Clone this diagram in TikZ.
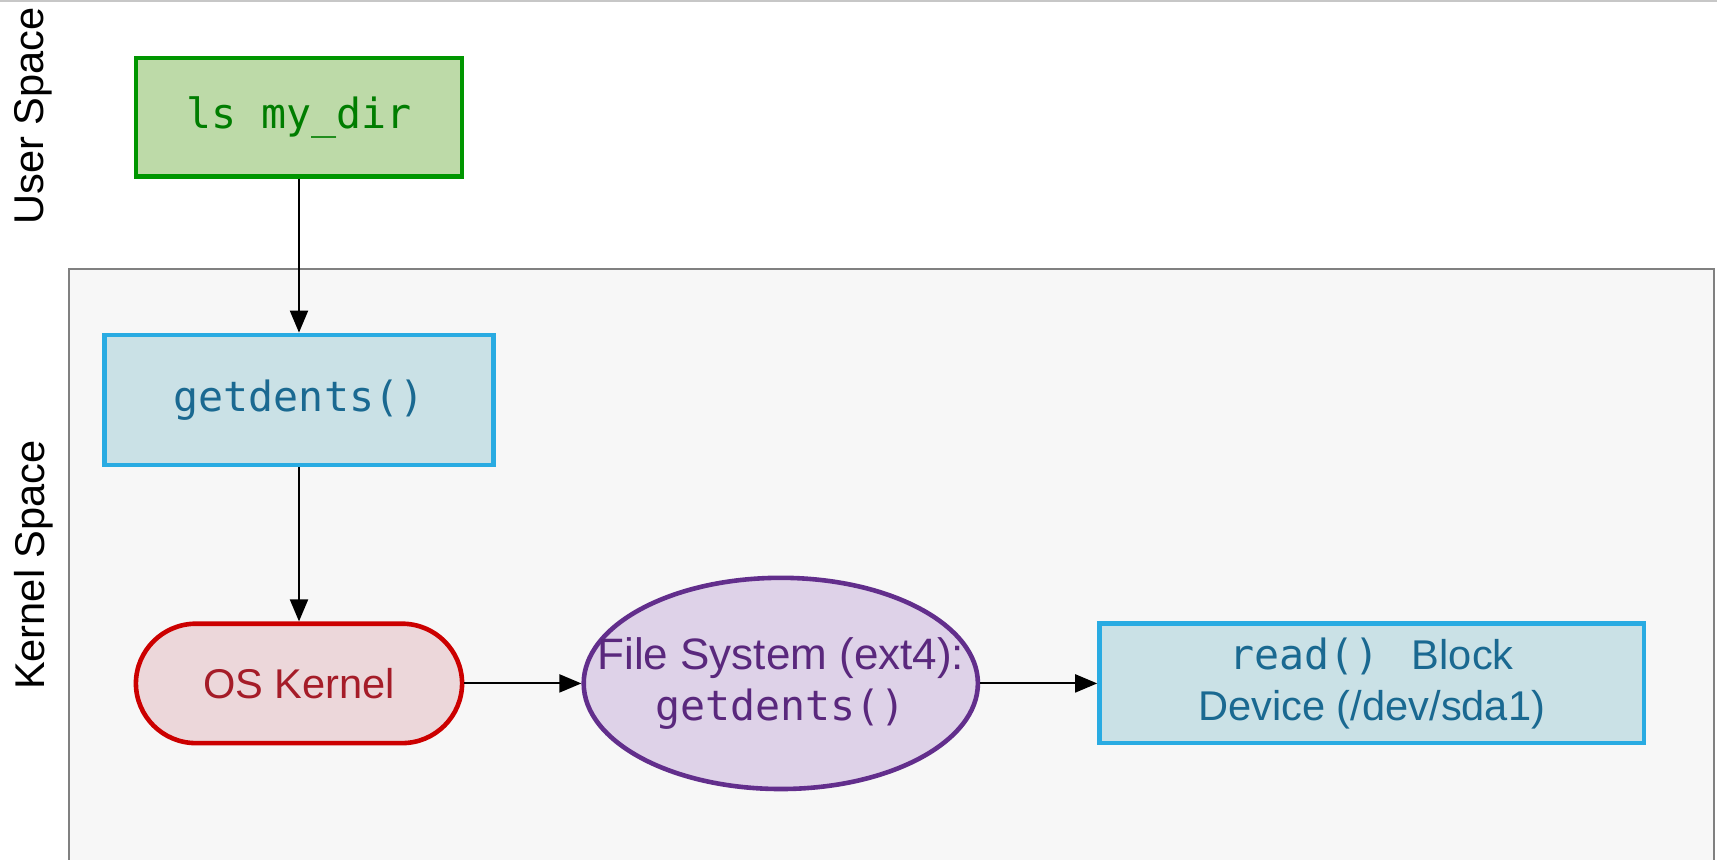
\documentclass[tikz,border=0pt]{standalone}
\usepackage{fontspec}
\setmainfont{Liberation Sans}
\setsansfont{Liberation Sans}
\setmonofont{DejaVu Sans Mono}
\usepackage{xcolor}
\usetikzlibrary{shapes,arrows.meta,positioning}

\definecolor{userline}{RGB}{0,150,0}
\definecolor{userfill}{RGB}{189,218,168}
\definecolor{usertext}{RGB}{0,125,0}
\definecolor{callline}{RGB}{41,171,226}
\definecolor{callfill}{RGB}{202,225,230}
\definecolor{calltext}{RGB}{26,105,145}
\definecolor{kernline}{RGB}{204,0,0}
\definecolor{kernfill}{RGB}{236,215,218}
\definecolor{kerntext}{RGB}{165,28,40}
\definecolor{fsline}{RGB}{98,46,140}
\definecolor{fsfill}{RGB}{222,210,232}
\definecolor{fstext}{RGB}{90,40,125}
\definecolor{clusterline}{RGB}{128,128,128}
\definecolor{clusterfill}{RGB}{247,247,247}

\begin{document}
\begin{tikzpicture}[x=0.5pt,y=-0.5pt,node distance=77pt and 58.5pt]
            \tikzstyle{base} = [line width=2.3pt, inner sep=0pt, align=center, font=\fontsize{20.8}{25.5}\selectfont]
            \tikzstyle{usercmd} = [base, rectangle, draw=userline, fill=userfill, text=usertext, minimum width=163.1pt, minimum height=59.1pt]
            \tikzstyle{syscall} = [base, rectangle, draw=callline, fill=callfill, text=calltext, minimum width=194.7pt, minimum height=65.1pt]
            \tikzstyle{kernelbox} = [base, rectangle, rounded corners=30pt, draw=kernline, fill=kernfill, text=kerntext, minimum width=163.1pt, minimum height=59.7pt]
            \tikzstyle{fsnode} = [base, ellipse, inner xsep=-22pt, draw=fsline, fill=fsfill, text=fstext, minimum width=194pt, minimum height=105.6pt, font=\fontsize{22}{25.5}\selectfont]
            \tikzstyle{device} = [base, rectangle, draw=callline, fill=callfill, text=calltext, minimum width=272.2pt, minimum height=59.7pt]
            \tikzstyle{spacelabel} = [rotate=90, inner sep=0pt, font=\fontsize{20.8}{25}\selectfont]
            \tikzstyle{arrow} = [line width=1pt, -{Triangle[length=11pt,width=9pt]}]

            \useasboundingbox (0,0) rectangle (1717,859);

            % user / kernel split
            \draw [black!22, line width=1pt] (0,1) -- (1717,1);
            \draw [draw=clusterline, fill=clusterfill, line width=1pt] (69,269.4) rectangle (1713.6,880);
            \node [spacelabel] (uspace) at (33.5,116) {User Space};
            \node [spacelabel] (kspace) at (33.5,565) {Kernel Space};

            \node [usercmd] (lscmd) at (299,117.2) {\texttt{ls my\_dir}};
            \node [syscall, below=of lscmd] (getdents) {\texttt{getdents()}};
            \node [kernelbox, below=of getdents] (kernel) {OS Kernel};
            \node [fsnode, right=of kernel] (fs) {File System (ext4):\\\fontsize{20.8}{25.5}\selectfont\texttt{getdents()}};
            \node [device, right=of fs] (blockdev) {\texttt{read() }\,Block\\Device (/dev/sda1)};

            \draw [arrow] (lscmd) -- (getdents);
            \draw [arrow] (getdents) -- (kernel);
            \draw [arrow] (kernel) -- (fs);
            \draw [arrow] (fs) -- (blockdev);
        \end{tikzpicture}
\end{document}
